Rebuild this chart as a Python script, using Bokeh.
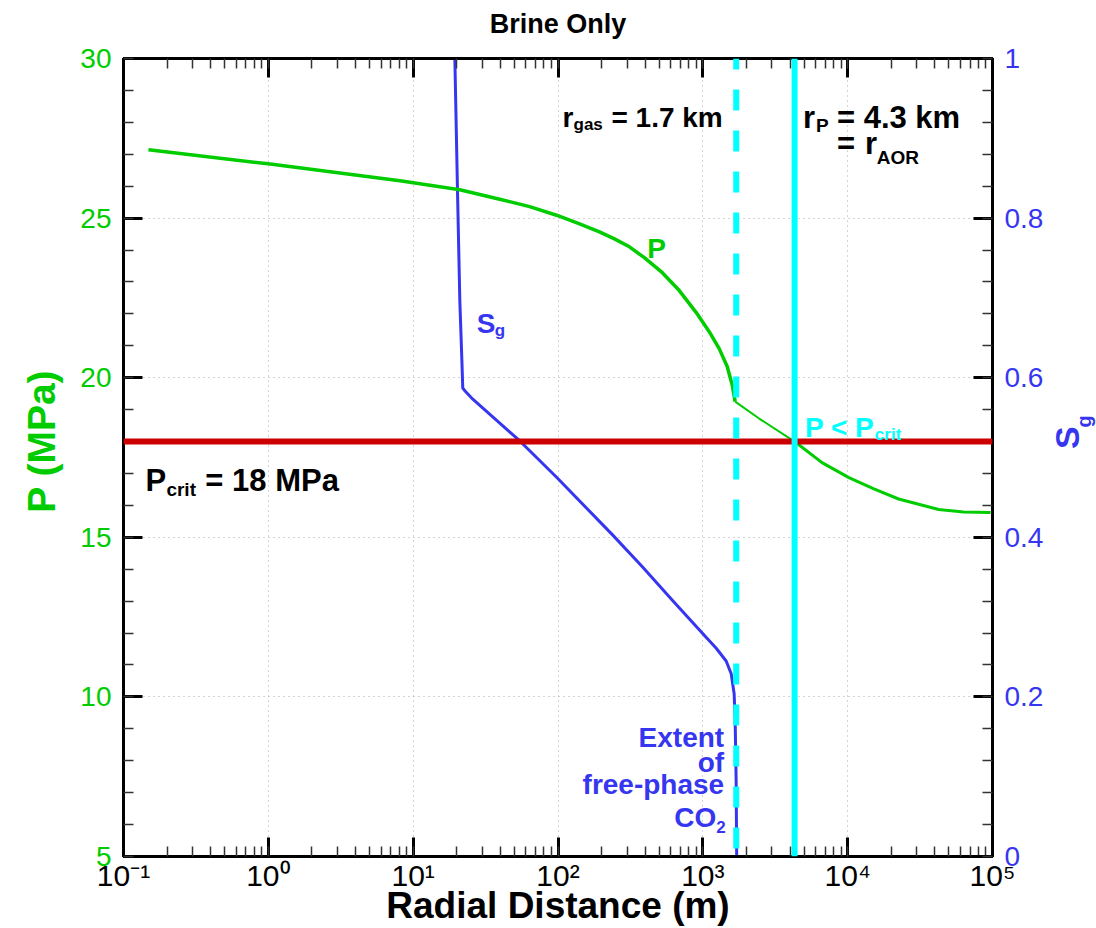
import math
import numpy as np
from bokeh.plotting import figure
from bokeh.layouts import row
from bokeh.models import (Range1d, LinearAxis, LogAxis, LogTicker, FixedTicker,
                          SingleIntervalTicker, Span, Label, CustomJSTickFormatter)
from bokeh.embed import file_html
from bokeh.resources import INLINE

# Pressure profile: radial distance (m) vs pressure (MPa)
r_p = [0.1487, 0.998, 8.10, 20.98, 39.6, 63.7, 97.7, 140.8, 193.3, 245.3, 311.2,
       394.8, 525.3, 687.9, 900.5, 1107, 1297, 1473, 1594, 1672, 2447, 4300, 6650,
       10200, 15170, 22480, 42500, 63200, 97000]
p_mpa = [27.14, 26.70, 26.17, 25.89, 25.59, 25.36, 25.09, 24.82, 24.57, 24.35, 24.10,
         23.76, 23.29, 22.73, 22.04, 21.44, 20.91, 20.35, 19.78, 19.25, 18.72, 18.00,
         17.34, 16.87, 16.52, 16.20, 15.87, 15.79, 15.78]

# Gas saturation profile: radial distance (m) vs Sg
r_sg = [0.1487, 19.4, 20.3, 21.0, 21.7, 22.0, 22.9, 25.8, 54.3, 99.3, 238, 382.3,
        616, 990, 1237, 1449, 1570, 1645, 1672, 1698, 1713]
sg = [1.0, 1.0, 0.822, 0.696, 0.621, 0.587, 0.583, 0.573, 0.521, 0.474, 0.403, 0.363,
      0.321, 0.280, 0.261, 0.245, 0.229, 0.204, 0.170, 0.095, 0.0]

P_CRIT = 18.0      # MPa
R_GAS = 1700.0     # m, extent of free-phase CO2
R_P = 4300.0       # m, radius where P drops below P_crit

sg_ticks = [0.0, 0.2, 0.4, 0.6, 0.8, 1.0]
sg_minor = [i / 25 for i in range(26)]

GREEN = "#00cc00"
BLUE = "#3636f0"
CYAN = "#00ffff"
RED = "#cc0000"
FONT = "Liberation Sans"
NBSP = "\u00a0"

MAIN_W, SIDE_W, H = 1046, 50, 928

p = figure(width=MAIN_W, height=H, x_axis_type="log", title=None,
           x_range=Range1d(0.1, 1e5), y_range=Range1d(5, 30),
           output_backend="svg", toolbar_location=None,
           min_border_left=123, min_border_right=52,
           min_border_top=58, min_border_bottom=72)
p.extra_y_ranges = {"sg": Range1d(0, 1)}

p.outline_line_color = "black"
p.outline_line_width = 3
p.background_fill_color = "white"
p.border_fill_color = "white"


def frame_axis(ax):
    ax.axis_line_width = 3
    ax.axis_line_color = "black"
    ax.major_tick_line_width = 3
    ax.major_tick_line_color = "black"
    ax.minor_tick_line_width = 1.5
    ax.minor_tick_line_color = "#333333"
    ax.major_tick_in = 19
    ax.major_tick_out = 0
    ax.minor_tick_in = 10
    ax.minor_tick_out = 0


sup_code = """
const sup = {'-':'\u207b','0':'\u2070','1':'\u00b9','2':'\u00b2','3':'\u00b3',
             '4':'\u2074','5':'\u2075','6':'\u2076','7':'\u2077','8':'\u2078','9':'\u2079'};
const e = Math.round(Math.log10(tick));
return '10' + String(e).split('').map(c => sup[c]).join('');
"""

# bottom log axis
xa = p.xaxis[0]
xa.ticker = LogTicker(num_minor_ticks=10)
xa.formatter = CustomJSTickFormatter(code=sup_code)
frame_axis(xa)
xa.major_label_text_font = FONT
xa.major_label_text_font_size = "30px"
xa.major_label_text_color = "black"
xa.major_label_standoff = 2
xa.axis_label = "Radial Distance (m)"
xa.axis_label_text_font = FONT
xa.axis_label_text_font_size = "37px"
xa.axis_label_text_font_style = "bold"
xa.axis_label_text_color = "black"
xa.axis_label_standoff = -10

# left pressure axis
ya = p.yaxis[0]
ya.ticker = SingleIntervalTicker(interval=5, num_minor_ticks=5)
frame_axis(ya)
ya.major_label_text_font = FONT
ya.major_label_text_font_size = "28px"
ya.major_label_text_color = GREEN
ya.major_label_standoff = 12
ya.axis_label = NBSP * 3 + "P (MPa)"
ya.axis_label_text_font = FONT
ya.axis_label_text_font_size = "39px"
ya.axis_label_text_font_style = "bold"
ya.axis_label_text_color = GREEN
ya.axis_label_standoff = 14

# top axis: ticks only, carries the chart title
top = LogAxis(ticker=LogTicker(num_minor_ticks=10),
              formatter=CustomJSTickFormatter(code="return '';"))
frame_axis(top)
top.major_label_standoff = 0
top.major_label_text_font_size = "1px"
top.axis_label = "Brine Only"
top.axis_label_text_font = FONT
top.axis_label_text_font_size = "27px"
top.axis_label_text_font_style = "bold"
top.axis_label_text_color = "black"
top.axis_label_standoff = 20
p.add_layout(top, "above")

# right saturation axis
ra = LinearAxis(y_range_name="sg",
                ticker=FixedTicker(ticks=sg_ticks, minor_ticks=sg_minor),
                formatter=CustomJSTickFormatter(code="return tick.toFixed(1).replace(/\\.0$/, '');"))
frame_axis(ra)
ra.major_label_text_font = FONT
ra.major_label_text_font_size = "28px"
ra.major_label_text_color = BLUE
ra.major_label_standoff = 12
p.add_layout(ra, "right")

# dotted grid at major ticks
p.xgrid.ticker = LogTicker(num_minor_ticks=10)
p.ygrid.ticker = SingleIntervalTicker(interval=5)
for g in (p.xgrid[0], p.ygrid[0]):
    g.grid_line_color = "#a8a8a8"
    g.grid_line_dash = "1 4"
    g.grid_line_width = 1

# gas saturation curve
p.line(r_sg, sg, y_range_name="sg", line_color=BLUE, line_width=3, line_join="round")

# pressure curve: thinner between the gas front and r_P
rp = np.array(r_p)
i_gas = int(np.where(rp <= R_GAS)[0][-1])
i_rp = int(np.where(rp >= R_P)[0][0])
p.line(r_p[:i_gas + 1], p_mpa[:i_gas + 1], line_color=GREEN, line_width=3.5, line_join="round")
p.line(r_p[i_gas:i_rp + 1], p_mpa[i_gas:i_rp + 1], line_color=GREEN, line_width=2, line_join="round")
p.line(r_p[i_rp:], p_mpa[i_rp:], line_color=GREEN, line_width=3, line_join="round")

# reference lines
p.add_layout(Span(location=P_CRIT, dimension="width", line_color=RED, line_width=6))
p.add_layout(Span(location=R_GAS, dimension="height", line_color=CYAN, line_width=6,
                  line_dash="21 20", line_dash_offset=10))
p.add_layout(Span(location=R_P, dimension="height", line_color=CYAN, line_width=6))


def at(px, py):
    """Frame pixel position -> (radial distance, pressure)."""
    return 10 ** ((px - 123) / 145.15 - 1), 30 - (py - 57.7) / 31.93


def note(text, px, py, size, color="black", align="left"):
    x, y = at(px, py)
    p.add_layout(Label(x=x, y=y, text=text, text_font=FONT, text_font_size=f"{size}px",
                       text_font_style="bold", text_color=color, text_align=align,
                       text_baseline="alphabetic"))


note("r", 563, 117, 28)
note("gas", 574, 124, 17)
note("= 1.7 km", 612, 117, 28)

note("r", 804, 117, 31)
note("P", 817, 125, 19)
note("= 4.3 km", 838, 117, 31)
note("=", 838, 143, 31)
note("r", 866, 143, 31)
note("AOR", 878, 157, 19)

note("P", 648, 248, 28, GREEN)
note("S", 477, 323, 28, BLUE)
note("g", 495, 330, 17, BLUE)

note("P < P", 806, 427, 28, CYAN)
note("crit", 876, 434, 17, CYAN)

note("P", 145, 480, 31)
note("crit", 166, 489, 19)
note("= 18 MPa", 205, 480, 31)

note("Extent", 725, 737, 28, BLUE, "right")
note("of", 725, 762, 28, BLUE, "right")
note("free-phase", 725, 784, 28, BLUE, "right")
note("CO", 717, 817, 28, BLUE, "right")
note("2", 717, 826, 17, BLUE, "left")

# narrow strip to the right holding the rotated S_g axis title (pixel coordinates)
side = figure(width=SIDE_W, height=H, x_range=Range1d(MAIN_W, MAIN_W + SIDE_W),
              y_range=Range1d(H, 0), output_backend="svg", toolbar_location=None,
              min_border=0, x_axis_location=None, y_axis_location=None, title=None)
side.grid.visible = False
side.outline_line_color = None
side.background_fill_color = "white"
side.border_fill_color = "white"
side.add_layout(Label(x=1066, y=441, text="S", text_font=FONT, text_font_size="34px",
                      text_font_style="bold", text_color=BLUE, text_align="center",
                      text_baseline="middle", angle=math.pi / 2))
side.add_layout(Label(x=1083, y=429, text="g", text_font=FONT, text_font_size="20px",
                      text_font_style="bold", text_color=BLUE, text_align="left",
                      text_baseline="middle", angle=math.pi / 2))

layout = row(p, side)
open("out.html", "w").write(file_html(layout, INLINE))
